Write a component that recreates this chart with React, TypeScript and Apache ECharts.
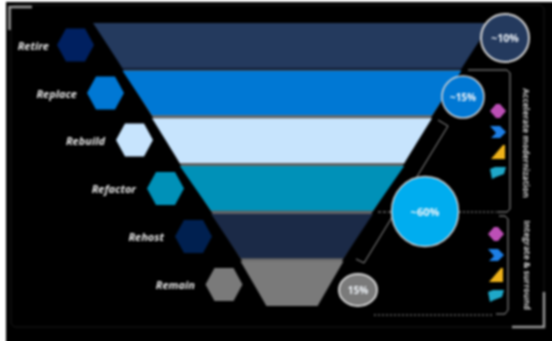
import React, { useEffect, useRef } from "react";
import * as echarts from "echarts";

// Modernization strategies, widest stage first
const stages = ["Retire", "Replace", "Rebuild", "Refactor", "Rehost", "Remain"];
const stageBreadth = [100, 83, 66, 50, 32, 15];
const bandColors = ["#243a5e", "#0078d4", "#c7e4fd", "#0091b8", "#1b2a47", "#7a7a7a"];
const hexColors = ["#002060", "#0078d4", "#c7e4fd", "#0091b8", "#002050", "#7a7a7a"];
const seamColors = ["#14213a", "#6e6e6e", "#6e6e6e", "#6e6e6e", "#6e6e6e", "#6e6e6e"];
const shareLabels = ["~10%", "~15%", "~60%", "15%"];
const groupLabels = ["Accelerate modernization", "Integrate & surround"];

const hexCenters = [[75.5, 45], [105.5, 93], [134.5, 140], [165.5, 188.5], [193.5, 236.5], [224, 284.5]];
const labelRightEdges = [49, 77, 105, 136, 164, 195];
const FRAME = "#969696";
const LINE = "#9a9a9a";

const hexagon = (cx: number, cy: number, fill: string) => ({
  type: "polygon",
  z: 10,
  shape: {
    points: [[cx - 18.5, cy], [cx - 9.5, cy - 16.5], [cx + 9.5, cy - 16.5], [cx + 18.5, cy], [cx + 9.5, cy + 16.5], [cx - 9.5, cy + 16.5]],
  },
  style: { fill },
});

const polyline = (points: number[][], stroke = LINE, lineWidth = 1, lineDash?: number[]) => ({
  type: "polyline",
  z: 8,
  shape: { points },
  style: { fill: "none", stroke, lineWidth, lineDash },
});

const bubble = (cx: number, cy: number, rx: number, ry: number, fill: string, text: string, size: number, lineWidth: number) => [
  {
    type: "ellipse",
    z: 12,
    shape: { cx, cy, rx, ry },
    style: { fill, stroke: "#d2d2d2", lineWidth },
  },
  {
    type: "text",
    z: 13,
    x: cx,
    y: cy,
    style: {
      text,
      fill: "#f0f5fa",
      font: `bold ${size}px "Open Sans", sans-serif`,
      align: "center",
      verticalAlign: "middle",
    },
  },
];

// The four product glyphs beside each bracket
const iconSet = (cx: number, cy: number) => [
  { type: "polygon", z: 10, shape: { points: [[cx - 8, cy], [cx - 2, cy - 7], [cx + 2, cy - 7], [cx + 8, cy], [cx + 2, cy + 7], [cx - 2, cy + 7]] }, style: { fill: "#bd4fb6" } },
  { type: "polygon", z: 10, shape: { points: [[cx - 8, cy + 15], [cx + 2, cy + 15], [cx + 8, cy + 21], [cx + 2, cy + 27], [cx - 7, cy + 27], [cx - 2, cy + 22]] }, style: { fill: "#1d7fe6" } },
  { type: "polygon", z: 10, shape: { points: [[cx - 7, cy + 48], [cx + 5, cy + 34], [cx + 7, cy + 34], [cx + 7, cy + 48]] }, style: { fill: "#efb31a" } },
  { type: "polygon", z: 10, shape: { points: [[cx - 8, cy + 58], [cx - 3, cy + 56], [cx + 8, cy + 56], [cx + 6, cy + 63], [cx - 2, cy + 66], [cx - 6, cy + 68]] }, style: { fill: "#1fa8c9" } },
];

const sideLabel = (x: number, y: number, text: string) => ({
  type: "text",
  z: 10,
  x,
  y,
  rotation: -Math.PI / 2,
  style: {
    text,
    fill: "#cfcfcf",
    font: 'bold 8.5px "Open Sans", sans-serif',
    align: "center",
    verticalAlign: "middle",
  },
});

export default function App() {
  const ref = useRef<HTMLDivElement>(null);

  useEffect(() => {
    const chart = echarts.init(ref.current!, null, { renderer: "svg" });

    const funnelBase = {
      type: "funnel",
      silent: true,
      sort: "none",
      top: 23,
      height: 283,
      min: 0,
      max: 100,
      minSize: "12.8%",
      maxSize: "100%",
      label: { show: false },
      labelLine: { show: false },
    };

    chart.setOption({
      animation: false,
      backgroundColor: "transparent",
      series: [
        {
          ...funnelBase,
          z: 1,
          left: 94,
          width: 396,
          gap: 0,
          data: stages.map((name, i) => ({
            name,
            value: stageBreadth[i],
            itemStyle: { color: seamColors[i], borderWidth: 0 },
          })),
        },
        {
          ...funnelBase,
          z: 2,
          left: 93,
          width: 398,
          gap: 3,
          data: stages.map((name, i) => ({
            name,
            value: stageBreadth[i],
            itemStyle: { color: bandColors[i], borderWidth: 0 },
          })),
        },
      ],
      graphic: [
        // Faint inner frame and the two corner brackets
        { type: "rect", z: 5, shape: { x: 11, y: 5, width: 533, height: 322, r: 5 }, style: { fill: "none", stroke: "#191919", lineWidth: 1 } },
        polyline([[9.5, 30], [9.5, 7], [32, 7]], FRAME, 2.5),
        polyline([[512, 327], [544, 327], [544, 292]], FRAME, 2.5),

        // Strategy names and hexagon markers
        ...stages.flatMap((name, i) => [
          hexagon(hexCenters[i][0], hexCenters[i][1], hexColors[i]),
          {
            type: "text",
            z: 10,
            x: labelRightEdges[i],
            y: hexCenters[i][1],
            style: {
              text: name,
              fill: "#e4e4e4",
              font: 'italic bold 11px "Open Sans", sans-serif',
              align: "right",
              verticalAlign: "middle",
            },
          },
        ]),

        // Slanted bracket spanning the three middle strategies
        polyline([[438, 120], [448, 126], [364, 263], [356, 259]]),

        // Connectors and group brackets on the right
        polyline([[378, 212], [391, 212]], LINE, 1, [3, 2]),
        polyline([[459, 212], [496, 212]], LINE, 1, [2, 2]),
        polyline([[468, 70], [507, 70], [510, 73], [510, 209], [507, 212], [497, 212]]),
        polyline([[499, 216], [505, 216], [508, 219], [508, 310], [505, 314], [496, 314]]),
        polyline([[374, 315], [494, 315]], LINE, 1, [2, 2]),

        ...iconSet(498, 111),
        ...iconSet(496, 234),
        sideLabel(526, 143, groupLabels[0]),
        sideLabel(527, 265, groupLabels[1]),

        // Share bubbles
        ...bubble(505, 38, 24, 24, "#243a5e", shareLabels[0], 10.5, 2),
        ...bubble(463, 97, 21, 21, "#0078d4", shareLabels[1], 10, 1.5),
        ...bubble(425, 211.5, 33.5, 35, "#00adef", shareLabels[2], 11, 1.5),
        ...bubble(358, 290, 19, 16, "#7a7a7a", shareLabels[3], 10, 2),
      ],
    });

    return () => chart.dispose();
  }, []);

  return (
    <div style={{ position: "fixed", left: 0, top: 0, width: 552, height: 341, background: "#fff", overflow: "hidden" }}>
      <div style={{ position: "absolute", left: 0, top: 0, width: 552, height: 341, filter: "blur(1px)" }}>
        <div style={{ position: "absolute", left: 6, top: 2, width: 556, height: 349, background: "#000" }} />
        <div ref={ref} style={{ position: "absolute", left: 0, top: 0, width: 552, height: 341 }} />
      </div>
    </div>
  );
}
